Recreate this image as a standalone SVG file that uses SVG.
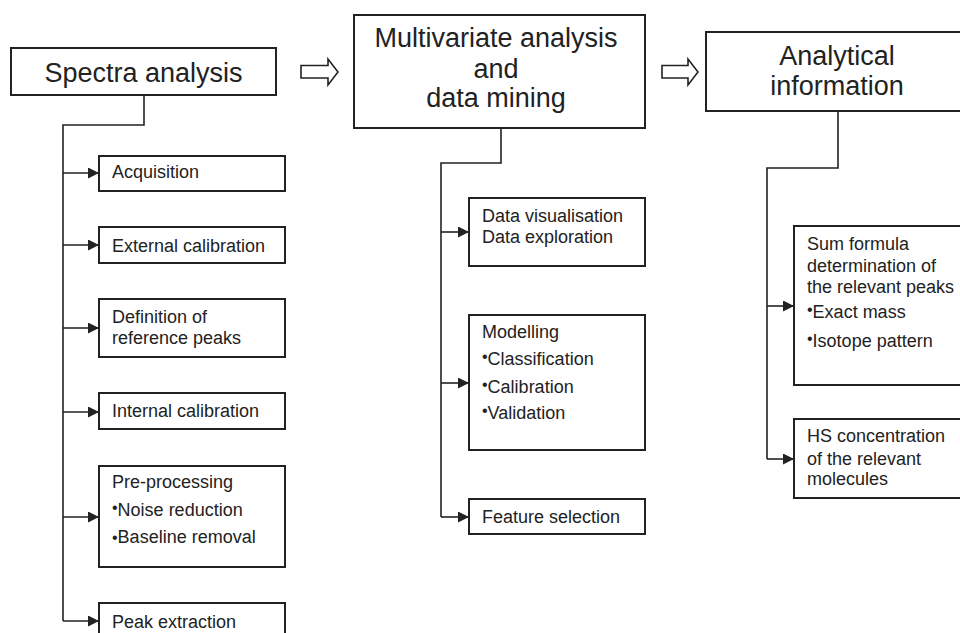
<svg xmlns="http://www.w3.org/2000/svg" width="960" height="633" viewBox="0 0 960 633">
<defs>
<style>
.box{fill:#fff;stroke:#222;stroke-width:2}
.ln{fill:none;stroke:#222;stroke-width:1.6}
.hol{fill:#fff;stroke:#222;stroke-width:1.6;stroke-linejoin:miter}
.big{font-family:"Liberation Sans",Arial,sans-serif;font-size:27px;fill:#222;text-anchor:middle}
.sm{font-family:"Liberation Sans",Arial,sans-serif;font-size:18px;fill:#222}
.bul{font-size:16px}
</style>
<marker id="ah" viewBox="0 0 11 11" refX="11" refY="5.5" markerWidth="11" markerHeight="11" markerUnits="userSpaceOnUse" orient="auto">
<path d="M0,0 L11,5.5 L0,11 Z" fill="#222"/>
</marker>
</defs>
<rect width="960" height="633" fill="#fff"/>

<g id="connectors">
<path class="ln" d="M144,95 V125 H63 V621"/>
<path class="ln" d="M63,173 H99" marker-end="url(#ah)"/>
<path class="ln" d="M63,245 H99" marker-end="url(#ah)"/>
<path class="ln" d="M63,328 H99" marker-end="url(#ah)"/>
<path class="ln" d="M63,412 H99" marker-end="url(#ah)"/>
<path class="ln" d="M63,517 H99" marker-end="url(#ah)"/>
<path class="ln" d="M63,621 H99" marker-end="url(#ah)"/>
<path class="ln" d="M501,128 V163 H441 V517"/>
<path class="ln" d="M441,232 H469" marker-end="url(#ah)"/>
<path class="ln" d="M441,383 H469" marker-end="url(#ah)"/>
<path class="ln" d="M441,517 H469" marker-end="url(#ah)"/>
<path class="ln" d="M838,111 V168 H767 V459"/>
<path class="ln" d="M767,306 H794" marker-end="url(#ah)"/>
<path class="ln" d="M767,459 H794" marker-end="url(#ah)"/>
<path class="hol" d="M301,65.5 H328 V59 L338,72 L328,85 V78 H301 Z"/>
<path class="hol" d="M662,65.5 H688 V59 L698,72 L688,85 V78 H662 Z"/>
</g>

<g id="spectra">
<rect class="box" x="11" y="48" width="265" height="47"/>
<text class="big" x="143.5" y="82">Spectra analysis</text>
</g>
<g id="multivariate">
<rect class="box" x="354" y="15" width="291" height="113"/>
<text class="big" x="496" y="47">Multivariate analysis</text>
<text class="big" x="496" y="78">and</text>
<text class="big" x="496" y="107">data mining</text>
</g>
<g id="analytical">
<rect class="box" x="706" y="32" width="264" height="79"/>
<text class="big" x="837" y="65">Analytical</text>
<text class="big" x="837" y="95">information</text>
</g>

<g id="acquisition">
<rect class="box" x="99" y="156" width="186" height="35"/>
<text class="sm" x="112" y="178">Acquisition</text>
</g>
<g id="external">
<rect class="box" x="99" y="227" width="186" height="36"/>
<text class="sm" x="112" y="252">External calibration</text>
</g>
<g id="definition">
<rect class="box" x="99" y="299" width="186" height="58"/>
<text class="sm" x="112" y="323">Definition of</text>
<text class="sm" x="112" y="344">reference peaks</text>
</g>
<g id="internal">
<rect class="box" x="99" y="393" width="186" height="36"/>
<text class="sm" x="112" y="417">Internal calibration</text>
</g>
<g id="preprocessing">
<rect class="box" x="99" y="466" width="186" height="101"/>
<text class="sm" x="112" y="488">Pre-processing</text>
<text class="sm" x="112" y="516"><tspan class="bul" dy="-3">•</tspan><tspan dy="3">Noise reduction</tspan></text>
<text class="sm" x="112" y="543"><tspan class="bul">•</tspan>Baseline removal</text>
</g>
<g id="peak">
<rect class="box" x="99" y="603" width="186" height="40"/>
<text class="sm" x="112" y="628">Peak extraction</text>
</g>

<g id="datavis">
<rect class="box" x="469" y="198" width="176" height="68"/>
<text class="sm" x="482" y="222">Data visualisation</text>
<text class="sm" x="482" y="243">Data exploration</text>
</g>
<g id="modelling">
<rect class="box" x="469" y="315" width="176" height="135"/>
<text class="sm" x="482" y="338">Modelling</text>
<text class="sm" x="482" y="365"><tspan class="bul" dy="-3">•</tspan><tspan dy="3">Classification</tspan></text>
<text class="sm" x="482" y="393"><tspan class="bul" dy="-3">•</tspan><tspan dy="3">Calibration</tspan></text>
<text class="sm" x="482" y="419"><tspan class="bul" dy="-3">•</tspan><tspan dy="3">Validation</tspan></text>
</g>
<g id="feature">
<rect class="box" x="469" y="499" width="176" height="35"/>
<text class="sm" x="482" y="523">Feature selection</text>
</g>

<g id="sumformula">
<rect class="box" x="794" y="226" width="176" height="159"/>
<text class="sm" x="807" y="250">Sum formula</text>
<text class="sm" x="807" y="272">determination of</text>
<text class="sm" x="807" y="293">the relevant peaks</text>
<text class="sm" x="807" y="318"><tspan class="bul" dy="-3">•</tspan><tspan dy="3">Exact mass</tspan></text>
<text class="sm" x="807" y="347"><tspan class="bul" dy="-3">•</tspan><tspan dy="3">Isotope pattern</tspan></text>
</g>
<g id="hs">
<rect class="box" x="794" y="419" width="176" height="79"/>
<text class="sm" x="807" y="442">HS concentration</text>
<text class="sm" x="807" y="465">of the relevant</text>
<text class="sm" x="807" y="485">molecules</text>
</g>
</svg>
